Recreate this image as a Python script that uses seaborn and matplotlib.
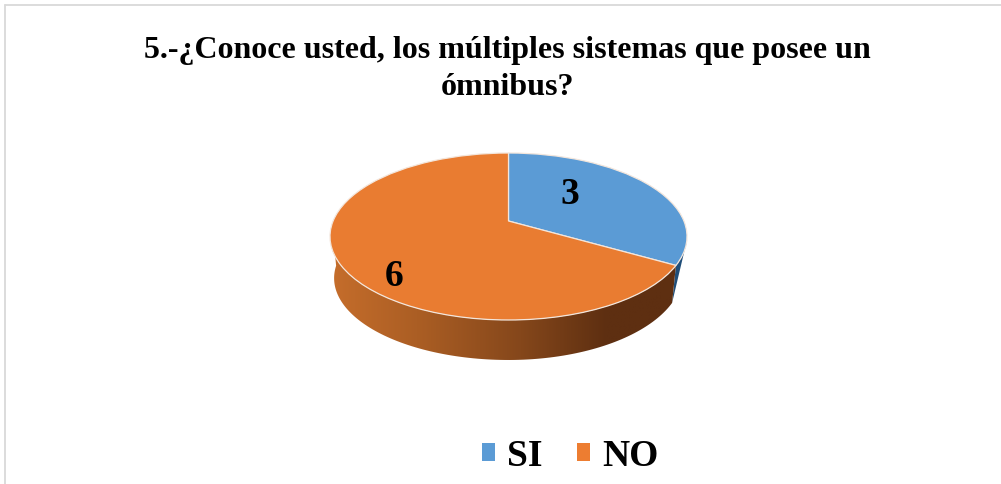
import numpy as np
import matplotlib
matplotlib.use("Agg")
import matplotlib.pyplot as plt
from matplotlib.colors import LinearSegmentedColormap
from matplotlib.patches import Patch, Polygon
from matplotlib.path import Path
from matplotlib.transforms import Transform
import seaborn as sns

categories = ["SI", "NO"]
values = [3, 6]
title = "5.-¿Conoce usted, los múltiples sistemas que posee un\nómnibus?"
colors = ["#5B9BD5", "#E97C31"]
legend_colors = ["#5B9BD5", "#ED7D31"]

sns.set_theme(style="white")
plt.rcParams["font.family"] = ["Liberation Serif", "DejaVu Serif"]

W, H = 1001, 484
CX, CY, RX = 508.5, 221.0, 175.4
PERSP, TILT = 0.1856, -39.6
DEPTH_FRONT, DEPTH_RIGHT, DEPTH_LEFT, SHRINK = 40.0, 35.0, 42.0, 0.977


def project(xy):
    x, y = xy[:, 0], xy[:, 1]
    d = PERSP * y + 1
    return np.column_stack([CX + RX * x / d, (TILT * y + CY) / d])


class Perspective(Transform):
    input_dims = output_dims = 2
    is_separable = False

    def transform_non_affine(self, xy):
        return project(np.asarray(xy, float))

    def transform_path_non_affine(self, path):
        return Path(project(path.vertices), path.codes)


def rims(start_deg, end_deg):
    t = np.radians(np.linspace(start_deg, end_deg, 120))
    xy = np.column_stack([np.sin(t), np.cos(t)])
    top = project(xy)
    side = np.where(xy[:, 0] > 0, DEPTH_RIGHT, DEPTH_LEFT)
    weight = np.clip(-xy[:, 1], 0, 1)
    depth = side + (DEPTH_FRONT - side) * weight
    low = np.column_stack([CX + SHRINK * (top[:, 0] - CX), top[:, 1] + depth])
    return top, low


fig = plt.figure(figsize=(W / 100, H / 100), dpi=100, facecolor="white")
ax = fig.add_axes([0, 0, 1, 1])

boundary = 360 * values[0] / sum(values)

# side wall of the disc: the blue sliver tapers to the lower end of the split
top_b, low_b = rims(104, boundary)
blue_side = Polygon(np.vstack([top_b, low_b[-1:]]), closed=True, fc="#1F4E79", ec="none", zorder=1)
ax.add_patch(blue_side)
top_o, low_o = rims(boundary, 268)
orange_path = Polygon(np.vstack([top_o, low_o[::-1]]), closed=True, fc="none", ec="none", zorder=1)
ax.add_patch(orange_path)
cmap = LinearSegmentedColormap.from_list(
    "side",
    [(0, "#C56D2B"), (0.25, "#AB5E24"), (0.55, "#85471B"), (0.8, "#5E2F11"), (1, "#5E2F11")],
)
grad = ax.imshow(np.linspace(0, 1, 256)[None, :], extent=(331, 676, 365, 230),
                 cmap=cmap, aspect="auto", zorder=1)
grad.set_clip_path(orange_path)

# top face: pie wedges pushed through the perspective
wedges, _ = ax.pie(values, colors=colors, startangle=90, counterclock=False, radius=1,
                   wedgeprops=dict(edgecolor="#F3E6DC", linewidth=0.9, zorder=2))
persp = Perspective() + ax.transData
for w in wedges:
    w.set_transform(w.get_patch_transform() + persp)

ax.set_aspect("auto")
ax.set_xlim(0, W)
ax.set_ylim(H, 0)
ax.axis("off")

ax.text(570, 194, str(values[0]), fontsize=27, fontweight="bold", ha="center", va="center", color="black", zorder=3)
ax.text(394, 276, str(values[1]), fontsize=27, fontweight="bold", ha="center", va="center", color="black", zorder=3)

ax.text(507, 69, title, fontsize=23, fontweight="bold", ha="center", va="center",
        linespacing=1.34, color="black", zorder=3)

handles = [Patch(facecolor=c, edgecolor="none") for c in legend_colors]
leg = ax.legend(handles, categories, loc="center", bbox_to_anchor=(570 / W, 1 - 456 / H),
                bbox_transform=fig.transFigure, ncol=2, frameon=False,
                prop=dict(size=27, weight="bold"), handlelength=0.35, handleheight=0.35,
                handletextpad=0.32, columnspacing=0.93, borderpad=0, labelspacing=0)
for t in leg.get_texts():
    t.set_color("black")

# chart frame
ax.plot([5, 5], [H, 5], color="#D9D9D9", lw=1.3, zorder=0)
ax.plot([5, W], [5, 5], color="#D9D9D9", lw=1.3, zorder=0)

fig.savefig("out.png", dpi=100, facecolor="white")
